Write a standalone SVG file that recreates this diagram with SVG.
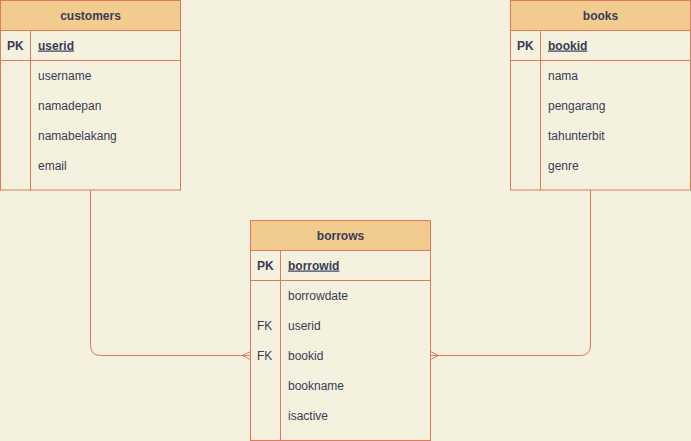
<svg xmlns="http://www.w3.org/2000/svg" width="691" height="441" viewBox="0 0 691 441">
<style>
.bg{fill:#F4F1DE}
.hd{fill:#F2CC8F;stroke:#E07A5F;stroke-width:1}
.bd{fill:#F4F1DE;stroke:#E07A5F;stroke-width:1}
.ln{fill:none;stroke:#E07A5F;stroke-width:1}
text{font-family:"Liberation Sans",Arial,sans-serif;font-size:12px;fill:#393C56}
.t{font-weight:bold;text-anchor:middle}
.b{font-weight:bold}
.u{font-weight:bold;text-decoration:underline}
</style>
<rect class="bg" x="0" y="0" width="691" height="441"/>
<g id="connectors">
<path class="ln" d="M90.5,190 V345 Q90.5,355.5 100.5,355.5 H250.5"/>
<path class="ln" d="M242.5,355.5 L250.5,351.5 M242.5,355.5 L250.5,359.5"/>
<path class="ln" d="M590.5,190 V345 Q590.5,355.5 580.5,355.5 H430.5"/>
<path class="ln" d="M438.5,355.5 L430.5,351.5 M438.5,355.5 L430.5,359.5"/>
</g>
<g id="customers">
<rect class="bd" x="0.5" y="0.5" width="180" height="189.5"/>
<rect class="hd" x="0.5" y="0.5" width="180" height="30"/>
<path class="ln" d="M0.5,60.5 H180.5 M30.5,30.5 V190"/>
<text class="t" x="90.5" y="19.5">customers</text>
<text class="b" x="7" y="49.5">PK</text>
<text class="u" x="38" y="49.5">userid</text>
<text x="38" y="79.5">username</text>
<text x="38" y="109.5">namadepan</text>
<text x="38" y="139.5">namabelakang</text>
<text x="38" y="169.5">email</text>
</g>
<g id="books">
<rect class="bd" x="510.5" y="0.5" width="180" height="189.5"/>
<rect class="hd" x="510.5" y="0.5" width="180" height="30"/>
<path class="ln" d="M510.5,60.5 H690.5 M540.5,30.5 V190"/>
<text class="t" x="600.5" y="19.5">books</text>
<text class="b" x="517" y="49.5">PK</text>
<text class="u" x="548" y="49.5">bookid</text>
<text x="548" y="79.5">nama</text>
<text x="548" y="109.5">pengarang</text>
<text x="548" y="139.5">tahunterbit</text>
<text x="548" y="169.5">genre</text>
</g>
<g id="borrows">
<rect class="bd" x="250.5" y="220.5" width="180" height="220"/>
<rect class="hd" x="250.5" y="220.5" width="180" height="30"/>
<path class="ln" d="M250.5,280.5 H430.5 M280.5,250.5 V440.5"/>
<text class="t" x="340.5" y="239.5">borrows</text>
<text class="b" x="257" y="269.5">PK</text>
<text class="u" x="288" y="269.5">borrowid</text>
<text x="288" y="299.5">borrowdate</text>
<text x="257" y="329.5">FK</text>
<text x="288" y="329.5">userid</text>
<text x="257" y="359.5">FK</text>
<text x="288" y="359.5">bookid</text>
<text x="288" y="389.5">bookname</text>
<text x="288" y="419.5">isactive</text>
</g>
</svg>
